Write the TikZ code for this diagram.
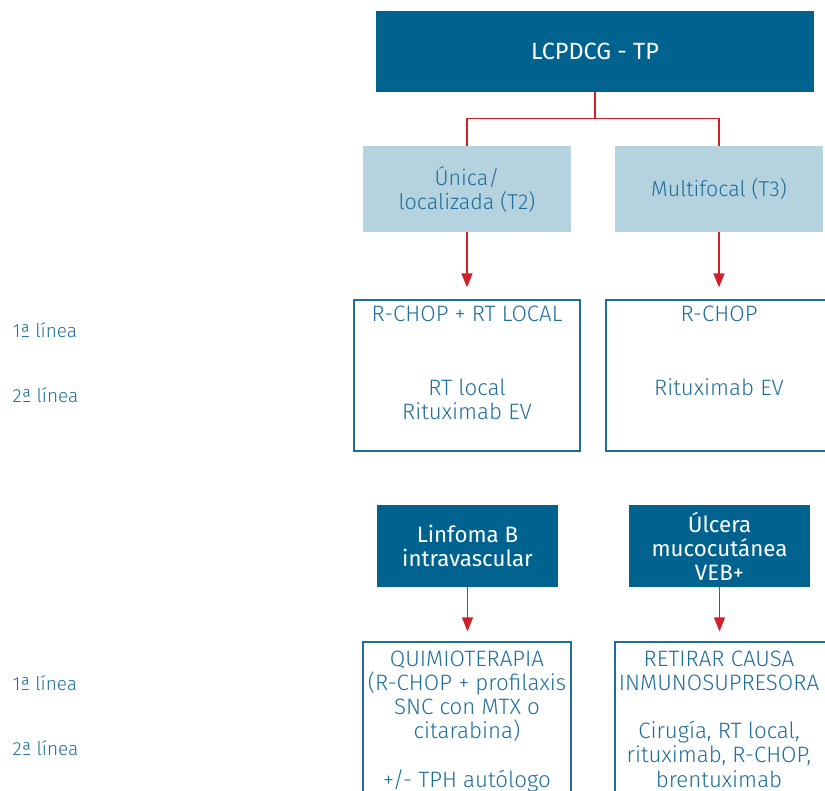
\documentclass[tikz,border=0pt]{standalone}
\usepackage{fontspec}
\setmainfont{Fira Sans}
\newfontfamily\lightfont{Fira Sans Light}
\usetikzlibrary{arrows.meta}
\definecolor{darkblue}{HTML}{00628F}
\definecolor{paleblue}{HTML}{B5D2DF}
\definecolor{textblue}{HTML}{1E6E9C}
\definecolor{linkred}{HTML}{D0202A}

\begin{document}
\begin{tikzpicture}[x=1pt, y=-1pt,
    font=\fontsize{22.3}{24}\selectfont,
    headbox/.style={rectangle, fill=darkblue, text=white, align=center, inner sep=0pt},
    stagebox/.style={rectangle, fill=paleblue, text=textblue, align=center, inner sep=0pt, font=\fontsize{21.5}{24}\lightfont},
    treatbox/.style={rectangle, draw=textblue, line width=1.2pt, inner sep=0pt},
    treattext/.style={text=textblue, align=center, inner sep=0pt, anchor=north, font=\fontsize{22.3}{24.2}\lightfont},
    linelabel/.style={text=textblue, anchor=base west, inner sep=0pt, font=\fontsize{19}{23}\lightfont},
    link/.style={draw=linkred, line width=1.3pt},
    arrow/.style={link, -{Triangle[width=11pt,length=14pt]}}
]
\useasboundingbox (0,0) rectangle (825,791);
\clip (0,0) rectangle (825,791);

% upper tree
\node[headbox, minimum width=438pt, minimum height=81pt, font=\fontsize{23.5}{24}\selectfont] (lcpdcg) at (595,51.5) {LCPDCG - TP};
\node[stagebox, minimum width=208pt, minimum height=86pt] (unica) at (467,189) {Única/\\localizada (T2)};
\node[stagebox, minimum width=208pt, minimum height=86pt] (multifocal) at (719,189) {Multifocal (T3)};
\node[treatbox, minimum width=226pt, minimum height=151pt] (tratunica) at (467,375.5) {};
\node[treatbox, minimum width=226pt, minimum height=151pt] (tratmulti) at (719,375.5) {};

\node[treattext] (rchoprt) at (467,305.6) {R-CHOP + RT LOCAL};
\node[treattext] (rtritux) at (467,378.8) {RT local\\Rituximab EV};
\node[treattext] (rchop) at (719,305.6) {R-CHOP};
\node[treattext] (ritux) at (719,378.8) {Rituximab EV};

\draw[link] (lcpdcg.south) -- ++(0,26) -| (unica.north);
\draw[link] (lcpdcg.south) -- ++(0,26) -| (multifocal.north);
\draw[arrow, shorten >=12pt] (unica) -- (tratunica);
\draw[arrow, shorten >=12pt] (multifocal) -- (tratmulti);

% lower tree
\node[headbox, minimum width=181pt, minimum height=82pt] (intravasc) at (467.5,546) {Linfoma B\\intravascular};
\node[headbox, minimum width=181pt, minimum height=82pt] (ulcera) at (719.5,546) {Úlcera\\mucocutánea\\VEB+};
\node[treatbox, minimum width=208pt, minimum height=200pt] (tratintra) at (467,742) {};
\node[treatbox, minimum width=220pt, minimum height=200pt] (tratulcera) at (725,742) {};

\node[treattext] (quimio) at (467,650.6) {QUIMIOTERAPIA\\(R-CHOP + profilaxis\\SNC con MTX o\\citarabina)\\[24pt]+/- TPH autólogo};
\node[treattext] (retirar) at (719,650.6) {RETIRAR CAUSA\\INMUNOSUPRESORA\\[24pt]Cirugía, RT local,\\rituximab, R-CHOP,\\brentuximab};

\draw[arrow, shorten >=10pt] (intravasc) -- (intravasc |- tratintra.north);
\draw[arrow, shorten >=10pt] (ulcera) -- (ulcera |- tratulcera.north);

% line labels
\node[linelabel] (primera) at (12.5,338) {1ª línea};
\node[linelabel] (segunda) at (12.5,403) {2ª línea};
\node[linelabel] (primerab) at (12.5,690) {1ª línea};
\node[linelabel] (segundab) at (12.5,755) {2ª línea};
\end{tikzpicture}
\end{document}
